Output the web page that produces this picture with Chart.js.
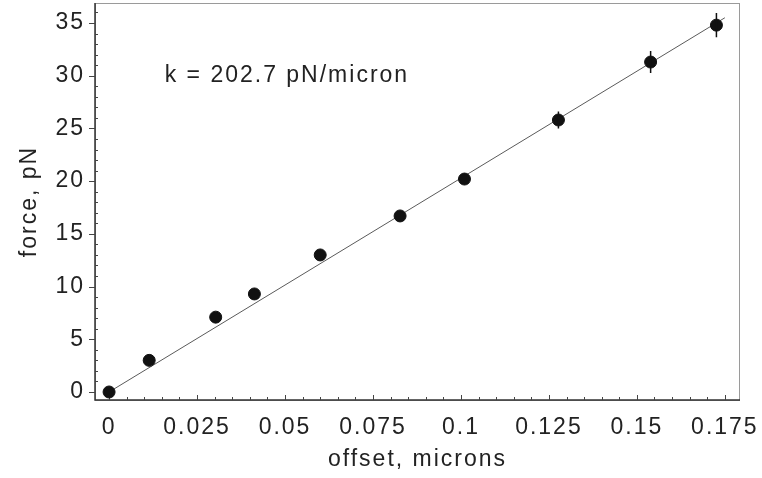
<!DOCTYPE html>
<html>
<head>
<meta charset="utf-8">
<script src="https://cdn.jsdelivr.net/npm/chart.js@4"></script>
<style>
  html, body { margin: 0; padding: 0; background: #fff; }
  #wrap { width: 762px; height: 478px; }
</style>
</head>
<body>
<div id="wrap"><canvas id="chart" width="762" height="478"></canvas></div>
<script>
  const offsets = [0, 0.0114, 0.0303, 0.0413, 0.060, 0.0827, 0.101, 0.1277, 0.1539, 0.1726];
  const forces = [0, 3.0, 7.1, 9.3, 13.0, 16.7, 20.2, 25.8, 31.3, 34.8];
  const forceErr = [0, 0, 0, 0, 0, 0, 0, 0.8, 1.05, 1.15];

  // fitted line, k = 202.7 pN/micron
  const fitX = [0, 0.175];
  const fitY = [0, 35.5];

  const xTicks = [0, 0.025, 0.05, 0.075, 0.1, 0.125, 0.15, 0.175];
  const yTicks = [0, 5, 10, 15, 20, 25, 30, 35];
  const note = 'k = 202.7 pN/micron';

  const FONT = "'Liberation Sans', Arial, Helvetica, sans-serif";
  const SIZE = 23;
  const INK = '#222';

  // the scanned lettering is a bit wider than Arial
  const spacing = {
    id: 'spacing',
    beforeUpdate(chart) { chart.ctx.letterSpacing = '2px'; },
    beforeDraw(chart) { chart.ctx.letterSpacing = '2px'; }
  };

  const frameAndMarks = {
    id: 'frameAndMarks',
    beforeDatasetsDraw(chart) {
      const { ctx, chartArea: a, scales: { x, y } } = chart;
      ctx.save();
      // light frame (top / right)
      ctx.strokeStyle = '#9a9a9a';
      ctx.lineWidth = 1;
      ctx.strokeRect(a.left + 0.5, a.top + 0.5, a.right - a.left - 1, a.bottom - a.top);
      // axes
      ctx.strokeStyle = '#333';
      ctx.lineWidth = 1.5;
      ctx.beginPath();
      ctx.moveTo(a.left, a.top);
      ctx.lineTo(a.left, a.bottom);
      ctx.lineTo(a.right, a.bottom);
      ctx.stroke();

      ctx.lineWidth = 1;
      ctx.strokeStyle = '#444';
      ctx.beginPath();
      // y ticks: majors outward, minors inward
      for (let v = 0; v <= 36; v += 1) {
        const py = Math.round(y.getPixelForValue(v)) + 0.5;
        if (v % 5 === 0) {
          ctx.moveTo(a.left - 6, py); ctx.lineTo(a.left, py);
        } else {
          ctx.moveTo(a.left, py); ctx.lineTo(a.left + 3, py);
        }
      }
      // x ticks, every 0.005
      for (let i = 0; i <= 35; i++) {
        const v = i * 0.005;
        const px = Math.round(x.getPixelForValue(v)) + 0.5;
        const len = (i % 5 === 0) ? 5 : 3;
        ctx.moveTo(px, a.bottom); ctx.lineTo(px, a.bottom - len);
      }
      ctx.stroke();

      // annotation
      ctx.fillStyle = INK;
      ctx.font = SIZE + 'px ' + FONT;
      ctx.textBaseline = 'middle';
      ctx.textAlign = 'left';
      ctx.fillText(note, x.getPixelForValue(0.0158), y.getPixelForValue(30));
      ctx.restore();
    },
    afterDatasetsDraw(chart) {
      const { ctx, scales: { x, y } } = chart;
      ctx.save();
      ctx.strokeStyle = '#111';
      ctx.lineWidth = 1.5;
      ctx.beginPath();
      offsets.forEach((ox, i) => {
        const e = forceErr[i];
        if (!e) return;
        const px = x.getPixelForValue(ox);
        ctx.moveTo(px, y.getPixelForValue(forces[i] - e));
        ctx.lineTo(px, y.getPixelForValue(forces[i] + e));
      });
      ctx.stroke();
      ctx.restore();
    }
  };

  new Chart(document.getElementById('chart'), {
    type: 'scatter',
    data: {
      datasets: [
        {
          type: 'line',
          label: 'fit',
          data: fitX.map((v, i) => ({ x: v, y: fitY[i] })),
          borderColor: '#5a5a5a',
          borderWidth: 1,
          pointRadius: 0,
          fill: false,
          order: 2
        },
        {
          label: 'force',
          data: offsets.map((v, i) => ({ x: v, y: forces[i] })),
          backgroundColor: '#111',
          borderColor: '#111',
          pointRadius: 6,
          pointHoverRadius: 6,
          order: 1
        }
      ]
    },
    options: {
      responsive: false,
      animation: false,
      events: [],
      layout: { autoPadding: false, padding: { left: 0, top: 3, right: 22, bottom: 0 } },
      plugins: { legend: { display: false }, tooltip: { enabled: false } },
      scales: {
        x: {
          type: 'linear',
          min: -0.004,
          max: 0.1793,
          afterBuildTicks: s => { s.ticks = xTicks.map(v => ({ value: v })); },
          afterFit: s => { s.height = 78; s.paddingLeft = 0; s.paddingRight = 0; },
          grid: { display: false, drawTicks: false },
          border: { display: false },
          ticks: {
            color: INK,
            padding: 14,
            maxRotation: 0,
            autoSkip: false,
            font: { family: FONT, size: SIZE },
            callback: v => String(v)
          },
          title: {
            display: true,
            text: 'offset, microns',
            color: INK,
            padding: { top: 0, bottom: 5 },
            font: { family: FONT, size: SIZE }
          }
        },
        y: {
          type: 'linear',
          min: -0.76,
          max: 36.9,
          afterBuildTicks: s => { s.ticks = yTicks.map(v => ({ value: v })); },
          afterFit: s => { s.width = 95; s.paddingTop = 0; s.paddingBottom = 0; },
          grid: { display: false, drawTicks: false },
          border: { display: false },
          ticks: {
            color: INK,
            padding: 10,
            autoSkip: false,
            font: { family: FONT, size: SIZE }
          },
          title: {
            display: true,
            text: 'force, pN',
            color: INK,
            padding: { top: 16, bottom: 0 },
            font: { family: FONT, size: SIZE }
          }
        }
      }
    },
    plugins: [spacing, frameAndMarks]
  });
</script>
</body>
</html>
